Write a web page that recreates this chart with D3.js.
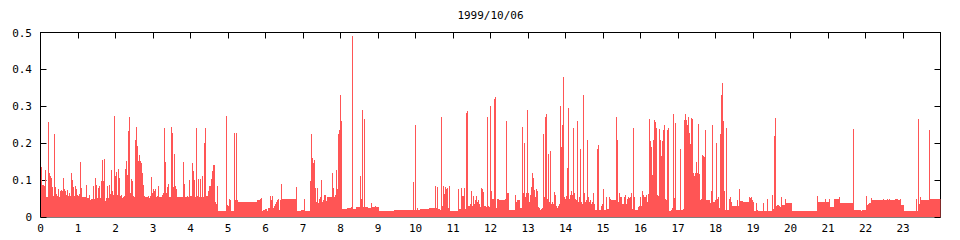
<!DOCTYPE html>
<html>
<head>
<meta charset="utf-8">
<script src="https://cdn.jsdelivr.net/npm/d3@7"></script>
<style>
  body { margin: 0; background: #fff; }
  text { font-family: "DejaVu Sans Mono", monospace; font-size: 11px; fill: #000; }
</style>
</head>
<body>
<svg id="chart" width="960" height="240"></svg>
<script>
var TITLE = "1999/10/06";
var FILL = "#ff5555";

// x ticks (hours) and y ticks
var hourTicks = d3.range(0, 24);
var valueTicks = [0, 0.1, 0.2, 0.3, 0.4, 0.5];

// samples, one per ~1.6 min
// plain number = one sample, [n, v] = n samples of value v
var early = [ // 00:00 - 07:12
  0.135,[2,0.087],0.085,0.128,[2,0.055],0.258,0.118,0.11,0.105,0.082,0.057,0.225,0.08,0.062,0.058,0.075,0.055,0.07,0.072,0.07,0.107,0.075,0.07,0.06,0.072,0.058,0.065,0.058,
  0.12,0.1,0.082,0.058,0.085,0.075,0.06,0.058,0.062,0.148,0.078,[4,0.055],0.088,[2,0.052],0.06,0.045,0.05,0.048,0.085,0.05,0.105,0.088,0.052,0.078,0.085,0.052,
  0.097,0.155,0.097,0.158,0.043,0.052,0.083,0.052,0.088,0.062,0.128,0.07,0.06,0.275,0.11,0.123,0.06,0.13,0.105,0.058,
  0.06,0.052,0.055,0.058,0.13,0.152,0.115,0.232,0.272,0.065,0.104,0.098,0.057,0.053,0.21,0.245,0.193,0.152,0.167,0.152,0.145,0.12,0.088,0.057,0.053,[2,0.055],0.057,0.052,0.057,0.108,0.065,0.075,
  0.07,0.077,0.055,0.058,0.085,[3,0.055],0.06,0.065,0.242,0.15,0.065,0.08,0.09,[2,0.055],0.245,0.228,0.082,0.172,0.085,0.075,[6,0.053],0.15,0.09,0.055,0.053,0.058,0.055,0.1,[2,0.058],
  0.145,0.125,0.1,0.055,0.24,0.058,0.102,0.055,0.102,0.055,0.11,0.055,0.2,0.242,[2,0.058],0.07,[2,0.083],0.103,0.125,[2,0.142],0.04,0.035,0.083,[8,0.015],
  0.274,0.033,0.03,0.048,0.045,[3,0.015],0.228,0.045,0.228,0.045,[19,0.042],[2,0.045],0.047,0.05,0.052,0.015,0.018,0.02,[2,0.022],0.015,[2,0.025],
  0.058,0.045,0.058,0.025,0.03,0.035,0.04,0.045,0.05,0.018,0.047,0.09,[14,0.048],0.08,[2,0.015],[2,0.017],[2,0.018],0.02,0.05,[5,0.015],0.097
];
var midday = [ // 07:12 - 15:28
  0.225,0.16,0.145,0.155,0.078,0.04,0.078,0.038,0.05,0.055,0.1,0.042,0.045,[2,0.06],0.043,0.055,[4,0.053],0.118,0.078,0.055,0.06,0.127,0.075,0.225,0.235,0.33,0.26,
  [5,0.023],[4,0.025],0.028,0.49,[3,0.022],[4,0.028],0.11,0.05,0.29,0.028,0.265,[3,0.028],[3,0.025],0.038,[3,0.026],0.03,[3,0.026],[15,0.016],[19,0.02],
  0.095,0.02,0.248,0.02,0.025,[2,0.02],[9,0.022],[6,0.025],0.085,0.025,0.08,[2,0.022],0.02,0.27,0.03,0.083,0.062,0.08,0.075,0.078,0.025,0.083,[8,0.016],
  0.075,[2,0.022],0.078,[2,0.056],0.078,0.022,0.282,0.287,[2,0.03],0.035,0.07,0.03,0.058,0.035,0.045,0.058,0.04,0.045,0.035,0.028,0.078,0.075,0.068,[2,0.03],0.028,
  0.27,0.03,0.027,0.3,0.07,[2,0.05],0.32,0.325,0.025,[2,0.05],[6,0.047],0.05,0.26,[2,0.065],[6,0.019],0.06,0.04,[3,0.047],[2,0.025],
  0.245,0.065,0.2,0.055,0.065,0.29,0.065,0.04,0.06,0.08,0.118,0.105,0.072,0.055,0.075,0.07,0.028,0.025,0.02,0.022,0.025,
  0.225,0.055,0.27,0.28,0.05,0.17,0.04,0.178,0.035,0.04,0.035,0.068,0.06,0.03,0.025,0.03,0.035,0.3,0.19,0.25,0.38,0.055,0.05,0.058,0.133,0.295,
  0.05,0.06,0.07,0.06,0.24,0.065,0.05,0.045,0.26,0.04,0.055,0.185,0.04,0.035,0.33,0.065,0.04,0.047,0.21,0.055,0.04,0.045,0.035,0.04,0.065,0.035,
  [2,0.02],0.185,0.195,[2,0.02],0.03,0.035,0.075,[2,0.02],0.055,[2,0.022],0.055,0.05,[5,0.045],0.27,0.21,0.04,0.065,0.055
];
var late = [ // 15:28 - 24:00
  0.053,[2,0.035],0.055,0.06,0.035,0.05,0.055,0.052,0.055,0.065,0.022,0.24,0.053,[2,0.018],0.02,0.028,0.03,0.055,0.03,0.07,0.06,0.055,0.055,0.06,0.042,0.062,
  0.265,0.205,0.19,0.115,0.208,0.263,0.258,0.24,0.06,0.058,0.238,0.21,0.165,0.205,0.235,0.248,0.05,0.045,0.237,0.24,0.017,0.017,0.02,0.025,0.28,0.052,0.255,
  0.02,0.02,0.018,0.018,0.185,0.02,0.02,0.022,0.262,0.28,0.262,0.25,0.27,0.227,0.197,0.268,0.265,0.12,0.11,0.12,0.15,0.12,0.253,0.117,0.045,0.05,
  0.167,0.165,0.163,0.235,[4,0.045],0.037,0.07,0.25,0.04,0.04,0.045,0.2,0.05,0.055,0.025,0.225,0.33,0.363,0.26,0.07,0.02,0.24,0.02,0.02,0.048,0.055,0.04,
  [5,0.03],0.045,0.03,0.075,[3,0.043],[5,0.042],0.04,0.055,0.052,0.055,0.045,0.04,[2,0.015],0.037,0.018,[5,0.015],0.037,[3,0.015],0.048,[4,0.015],
  0.06,0.022,0.22,0.268,0.03,[2,0.033],0.03,0.028,0.055,[3,0.033],0.048,0.038,[5,0.038],[25,0.015],0.058,[7,0.04],0.048,[3,0.04],0.05,[4,0.027],[5,0.05],0.055,[13,0.038],
  0.238,0.02,0.018,[2,0.02],0.02,0.018,0.02,0.017,0.02,[3,0.02],0.057,0.033,0.035,[2,0.038],0.052,[3,0.047],[8,0.045],0.048,[3,0.045],0.048,0.045,0.048,0.047,[3,0.045],
  0.047,[3,0.048],0.045,0.045,0.05,[3,0.032],[12,0.015],0.048,0.015,0.265,0.035,0.053,[8,0.045],0.237,[11,0.05]
];

var expand = function(runs) {
  var out = [];
  runs.forEach(function(r) {
    if (Array.isArray(r)) { for (var k=0; k<r[0]; ++k) out.push(r[1]); }
    else out.push(r);
  });
  return out;
}

var values = expand(early).concat(expand(midday), expand(late));
var stepH = 24 / values.length;
var samples = values.map(function(v, i) { return {t: i*stepH, v: v}; });
samples.push({t: 24, v: values[values.length-1]});

// plot box (window.top is read-only, so no plain "top" here)
var plotLeft = 40.5, plotRight = 940.5, plotTop = 32.5, plotBottom = 217;
var x = d3.scaleLinear().domain([0, 24]).range([plotLeft, plotRight]);
var y = d3.scaleLinear().domain([0, 0.5]).range([plotBottom, plotTop]);

var svg = d3.select("#chart");

// frame
svg.append("rect")
  .attr("x", plotLeft).attr("y", plotTop)
  .attr("width", plotRight-plotLeft).attr("height", plotBottom-plotTop)
  .attr("fill", "none").attr("stroke", "#000").attr("stroke-width", 1);

// inner ticks: top (hours), left and right (values)
var ticks = svg.append("g").attr("stroke", "#000").attr("stroke-width", 1);
hourTicks.forEach(function(h) {
  var px = Math.round(x(h) - 0.5) + 0.5;
  ticks.append("line").attr("x1", px).attr("x2", px).attr("y1", plotTop).attr("y2", plotTop+6);
});
valueTicks.forEach(function(v) {
  var py = Math.round(y(v) - 0.5) + 0.5;
  ticks.append("line").attr("x1", plotLeft).attr("x2", plotLeft+6).attr("y1", py).attr("y2", py);
  ticks.append("line").attr("x1", plotRight-6).attr("x2", plotRight).attr("y1", py).attr("y2", py);
});

// the data, drawn over frame and ticks
svg.append("clipPath").attr("id", "plot")
  .append("rect").attr("x", plotLeft).attr("y", plotTop-2)
  .attr("width", plotRight-plotLeft).attr("height", plotBottom-plotTop+2);

var area = d3.area()
  .curve(d3.curveStepAfter)
  .x(function(d) { return x(d.t); })
  .y0(y(0))
  .y1(function(d) { return y(d.v); });

svg.append("path")
  .datum(samples)
  .attr("clip-path", "url(#plot)")
  .attr("fill", FILL)
  .attr("shape-rendering", "crispEdges")
  .attr("d", area);

// labels
svg.selectAll(".xl").data(hourTicks).enter().append("text")
  .attr("x", function(d) { return x(d); })
  .attr("y", 232)
  .attr("text-anchor", "middle")
  .text(function(d) { return d; });

svg.selectAll(".yl").data(valueTicks).enter().append("text")
  .attr("x", 32)
  .attr("y", function(d) { return y(d) + 4; })
  .attr("text-anchor", "end")
  .text(function(d) { return d === 0 ? "0" : d3.format(".1f")(d); });

svg.append("text")
  .attr("x", (plotLeft+plotRight)/2)
  .attr("y", 19)
  .attr("text-anchor", "middle")
  .text(TITLE);
</script>
</body>
</html>
